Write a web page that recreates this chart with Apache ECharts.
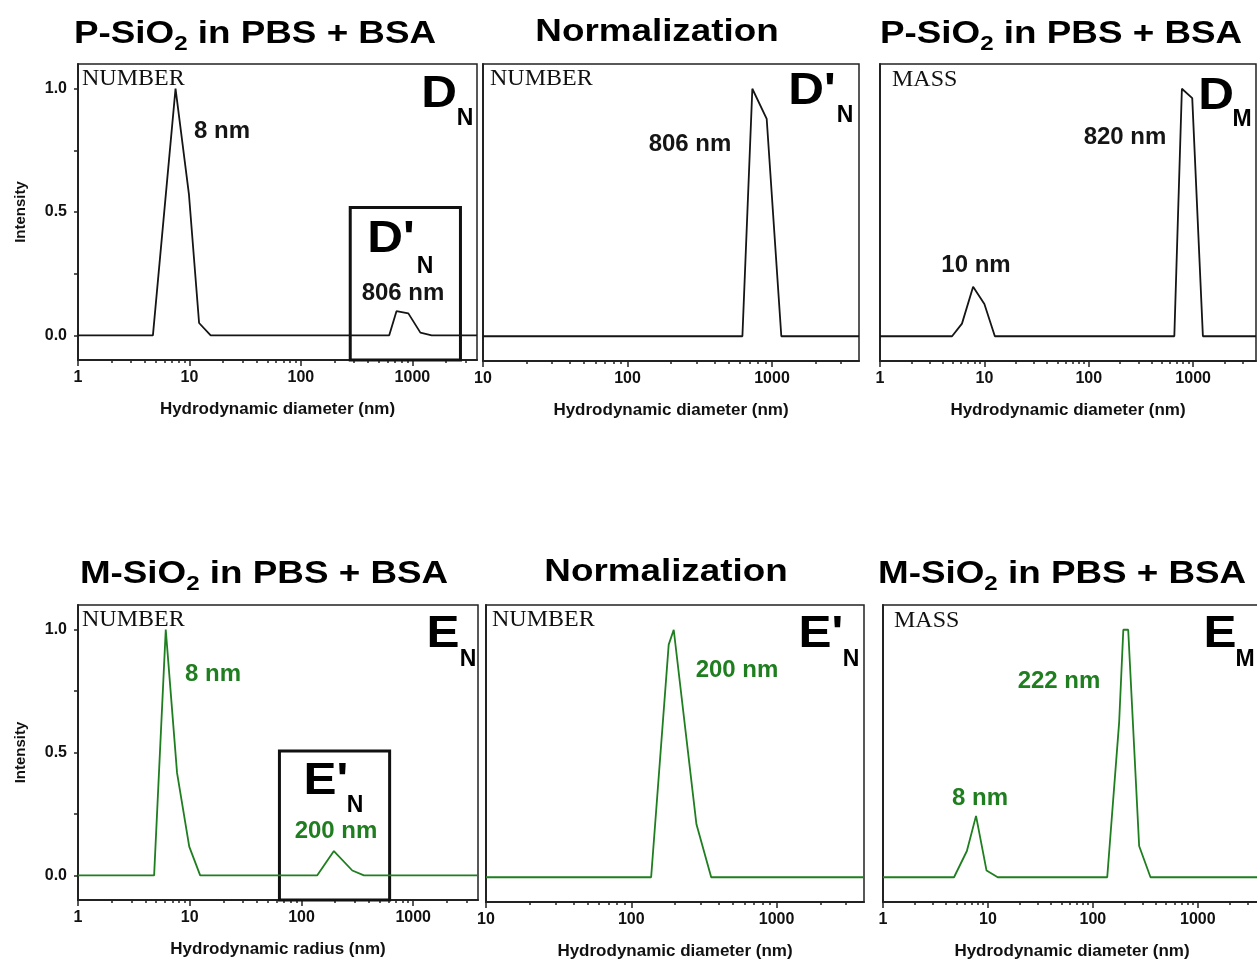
<!DOCTYPE html>
<html>
<head>
<meta charset="utf-8">
<title>DLS size distributions</title>
<script src="https://cdn.jsdelivr.net/npm/echarts@6/dist/echarts.min.js"></script>
<style>
    html, body { margin: 0; padding: 0; background: #fff; }
    #main { width: 1257px; height: 963px; }
</style>
</head>
<body>
<div id="main"></div>
<script>
// values: x = size (nm), y = normalised intensity
var dN_x = [1, 4.7, 7.5, 9.9, 12.2, 15.5, 620, 720, 920, 1180, 1490, 3800];
var dN_y = [0, 0, 1.0, 0.57, 0.05, 0, 0, 0.098, 0.089, 0.011, 0, 0];

var dPrimeN_x = [10, 624, 731, 919, 1160, 4000];
var dPrimeN_y = [0, 0, 1.0, 0.878, 0, 0];

var dM_x = [1, 4.9, 6.1, 7.8, 10, 12.6, 660, 780, 980, 1240, 4000];
var dM_y = [0, 0, 0.051, 0.2, 0.13, 0, 0, 1.0, 0.962, 0, 0];

var eN_x = [1, 4.8, 6.1, 7.7, 9.9, 12.4, 138, 195, 285, 362, 3800];
var eN_y = [0, 0, 1.0, 0.417, 0.117, 0, 0, 0.099, 0.02, 0, 0];

var ePrimeN_x = [10, 137, 181, 196, 281, 355, 4000];
var ePrimeN_y = [0, 0, 0.94, 1.0, 0.214, 0, 0];

var eM_x = [1, 4.75, 6.3, 7.7, 9.7, 12.4, 137, 178, 195, 217, 276, 354, 4000];
var eM_y = [0, 0, 0.106, 0.248, 0.027, 0, 0, 0.627, 1.0, 1.0, 0.126, 0, 0];

// zoom boxes drawn in the NUMBER panels: [xFrom, xTo, yTop]
var insetD = [277, 2700, 0.518];
var insetE = [63.5, 615, 0.506];

var yTickLabels = [0, 0.5, 1.0];
var yTicks = [0, 0.25, 0.5, 0.75, 1.0];
var xDecades = [1, 10, 100, 1000];

var FONT = "'Liberation Sans', Arial, Helvetica, sans-serif";
var SERIF = "'Liberation Serif', 'Times New Roman', serif";
var BLACK = '#151515';
var GREEN = '#1f7e1f';
var AXIS = '#222';

var panels = [
    {grid: {left: 78, top: 64, width: 399, height: 296}, xMin: 1, xMax: 3800, xs: dN_x, ys: dN_y, color: BLACK, yLabels: true, xName: 'Hydrodynamic diameter (nm)', box: insetD},
    {grid: {left: 483, top: 64, width: 376, height: 297}, xMin: 10, xMax: 4000, xs: dPrimeN_x, ys: dPrimeN_y, color: BLACK, xName: 'Hydrodynamic diameter (nm)'},
    {grid: {left: 880, top: 64, width: 376, height: 297}, xMin: 1, xMax: 4000, xs: dM_x, ys: dM_y, color: BLACK, xName: 'Hydrodynamic diameter (nm)'},
    {grid: {left: 78, top: 605, width: 400, height: 295}, xMin: 1, xMax: 3800, xs: eN_x, ys: eN_y, color: GREEN, yLabels: true, xName: 'Hydrodynamic radius (nm)', box: insetE},
    {grid: {left: 486, top: 605, width: 378, height: 297}, xMin: 10, xMax: 4000, xs: ePrimeN_x, ys: ePrimeN_y, color: GREEN, xName: 'Hydrodynamic diameter (nm)'},
    {grid: {left: 883, top: 605, width: 378, height: 297}, xMin: 1, xMax: 4000, xs: eM_x, ys: eM_y, color: GREEN, xName: 'Hydrodynamic diameter (nm)'}
];

function minorTicks(min, max) {
    var out = [];
    for (var d = 1; d <= 1000; d *= 10) {
        for (var k = 2; k <= 9; k++) {
            if (d * k > min && d * k < max) out.push(d * k);
        }
    }
    return out;
}

var grids = [], xAxes = [], yAxes = [], series = [];

panels.forEach(function (p, i) {
    grids.push({
        left: p.grid.left, top: p.grid.top, width: p.grid.width, height: p.grid.height,
        show: true, borderColor: AXIS, borderWidth: 1.5, backgroundColor: 'transparent',
        containLabel: false, outerBoundsMode: 'none'
    });

    var majors = xDecades.filter(function (v) { return v >= p.xMin && v <= p.xMax; });
    xAxes.push({
        type: 'log', logBase: 10, gridIndex: i, min: p.xMin, max: p.xMax, position: 'bottom',
        axisLine: {show: true, onZero: false, lineStyle: {color: AXIS, width: 2}},
        axisTick: {show: true, inside: false, length: 6, lineStyle: {color: AXIS, width: 1.5}, customValues: majors},
        axisLabel: {
            show: true, customValues: majors, margin: 10, color: '#111',
            fontSize: 16, fontWeight: 'bold', fontFamily: FONT,
            formatter: function (v) { return String(Math.round(v)); }
        },
        splitLine: {show: false},
        name: p.xName, nameLocation: 'middle', nameGap: 41, nameMoveOverlap: false,
        nameTextStyle: {color: '#111', fontSize: 17, fontWeight: 'bold', fontFamily: FONT}
    });
    // second axis only carries the short minor ticks (2..9 of each decade)
    xAxes.push({
        type: 'log', logBase: 10, gridIndex: i, min: p.xMin, max: p.xMax, position: 'bottom',
        axisLine: {show: false, onZero: false},
        axisTick: {show: true, inside: false, length: 3, lineStyle: {color: AXIS, width: 1.5}, customValues: minorTicks(p.xMin, p.xMax)},
        axisLabel: {show: false},
        splitLine: {show: false}
    });

    yAxes.push({
        type: 'value', gridIndex: i, min: -0.1, max: 1.1,
        axisLine: {show: true, onZero: false, lineStyle: {color: AXIS, width: 2}},
        axisTick: {show: !!p.yLabels, inside: false, length: 4, lineStyle: {color: AXIS, width: 1.5}, customValues: yTicks},
        axisLabel: {
            show: !!p.yLabels, customValues: yTickLabels, margin: 11, color: '#111',
            fontSize: 16, fontWeight: 'bold', fontFamily: FONT,
            formatter: function (v) { return v.toFixed(1); }
        },
        splitLine: {show: false},
        name: p.yLabels ? 'Intensity' : '', nameLocation: 'middle', nameGap: 50, nameMoveOverlap: false,
        nameTextStyle: {color: '#111', fontSize: 15, fontWeight: 'bold', fontFamily: FONT}
    });

    var s = {
        type: 'line', xAxisIndex: 2 * i, yAxisIndex: i,
        data: p.xs.map(function (x, j) { return [x, p.ys[j]]; }),
        symbol: 'none', showSymbol: false, clip: true, silent: true,
        lineStyle: {color: p.color, width: 1.8},
        itemStyle: {color: p.color}
    };
    if (p.box) {
        s.markArea = {
            silent: true,
            itemStyle: {color: 'rgba(0,0,0,0)', borderColor: '#111', borderWidth: 3},
            data: [[{coord: [p.box[0], -0.1]}, {coord: [p.box[1], p.box[2]]}]]
        };
    }
    series.push(s);
});

function txt(x, y, text, size, color, extra) {
    extra = extra || {};
    return {
        type: 'text', x: x, y: y, scaleX: extra.scaleX || 1, silent: true, z: 100,
        style: {
            text: text, fill: color || '#000', align: extra.align || 'center', verticalAlign: 'middle',
            font: 'bold ' + size + 'px ' + (extra.family || FONT)
        }
    };
}

function title(x, y, prefix, align) {
    return {
        type: 'text', x: x, y: y, scaleX: 1.15, silent: true, z: 100,
        style: {
            text: '{t|' + prefix + '-SiO}{s|2}{t| in PBS + BSA}',
            align: align, verticalAlign: 'middle',
            rich: {
                t: {fontSize: 32, fontWeight: 'bold', fontFamily: FONT, fill: '#000'},
                s: {fontSize: 21, fontWeight: 'bold', fontFamily: FONT, fill: '#000', padding: [20, 0, 0, 0]}
            }
        }
    };
}

var graphics = [
    title(255, 34, 'P', 'center'),
    txt(657, 32, 'Normalization', 32, '#000', {scaleX: 1.15}),
    title(880, 34, 'P', 'left'),
    title(264, 574, 'M', 'center'),
    txt(666, 572, 'Normalization', 32, '#000', {scaleX: 1.15}),
    title(878, 574, 'M', 'left'),

    // distribution type
    {type: 'text', x: 82, y: 79, silent: true, z: 100, style: {text: 'NUMBER', fill: '#111', align: 'left', verticalAlign: 'middle', font: '24px ' + SERIF}},
    {type: 'text', x: 490, y: 79, silent: true, z: 100, style: {text: 'NUMBER', fill: '#111', align: 'left', verticalAlign: 'middle', font: '24px ' + SERIF}},
    {type: 'text', x: 892, y: 80, silent: true, z: 100, style: {text: 'MASS', fill: '#111', align: 'left', verticalAlign: 'middle', font: '24px ' + SERIF}},
    {type: 'text', x: 82, y: 620, silent: true, z: 100, style: {text: 'NUMBER', fill: '#111', align: 'left', verticalAlign: 'middle', font: '24px ' + SERIF}},
    {type: 'text', x: 492, y: 620, silent: true, z: 100, style: {text: 'NUMBER', fill: '#111', align: 'left', verticalAlign: 'middle', font: '24px ' + SERIF}},
    {type: 'text', x: 894, y: 621, silent: true, z: 100, style: {text: 'MASS', fill: '#111', align: 'left', verticalAlign: 'middle', font: '24px ' + SERIF}},

    // panel letters
    txt(439, 95, 'D', 45, '#000', {scaleX: 1.1}), txt(465, 119, 'N', 23),
    txt(812, 92, "D'", 45, '#000', {scaleX: 1.1}), txt(845, 116, 'N', 23),
    txt(1216, 97, 'D', 45, '#000', {scaleX: 1.1}), txt(1242, 120, 'M', 23),
    txt(391, 240, "D'", 45, '#000', {scaleX: 1.1}), txt(425, 267, 'N', 23),
    txt(443, 635, 'E', 45, '#000', {scaleX: 1.1}), txt(468, 660, 'N', 23),
    txt(821, 635, "E'", 45, '#000', {scaleX: 1.1}), txt(851, 660, 'N', 23),
    txt(1220, 635, 'E', 45, '#000', {scaleX: 1.1}), txt(1245, 660, 'M', 23),
    txt(326, 782, "E'", 45, '#000', {scaleX: 1.1}), txt(355, 806, 'N', 23),

    // peak annotations
    txt(222, 131, '8 nm', 24, BLACK),
    txt(403, 293, '806 nm', 24, BLACK),
    txt(690, 144, '806 nm', 24, BLACK),
    txt(1125, 137, '820 nm', 24, BLACK),
    txt(976, 265, '10 nm', 24, BLACK),
    txt(213, 674, '8 nm', 24, GREEN),
    txt(336, 831, '200 nm', 24, GREEN),
    txt(737, 670, '200 nm', 24, GREEN),
    txt(1059, 681, '222 nm', 24, GREEN),
    txt(980, 798, '8 nm', 24, GREEN)
];

var chart = echarts.init(document.getElementById('main'), null, {renderer: 'canvas'});
chart.setOption({
    backgroundColor: '#fff',
    animation: false,
    grid: grids,
    xAxis: xAxes,
    yAxis: yAxes,
    series: series,
    graphic: graphics
});
window.onresize = chart.resize;
</script>
</body>
</html>
